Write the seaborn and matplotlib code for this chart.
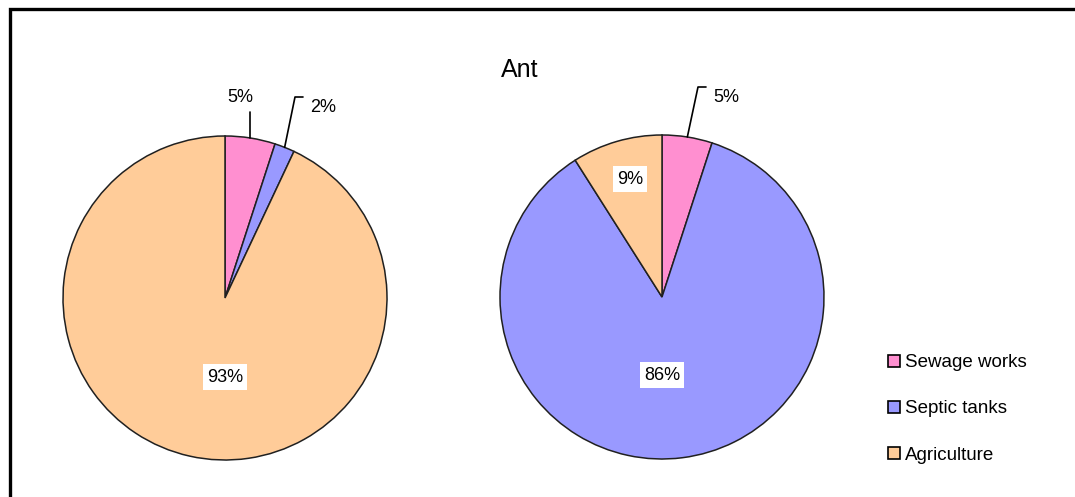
import numpy as np
import matplotlib
matplotlib.use("Agg")
import matplotlib.pyplot as plt
import seaborn as sns
from matplotlib.patches import Rectangle, Patch

# --- datos ---
categorias = ["Sewage works", "Septic tanks", "Agriculture"]
valores_izq = [5, 2, 93]
valores_der = [5, 86, 9]
titulo = "Ant"
colores = ["#FF8FD0", "#9999FF", "#FFCC99"]

sns.set_theme(style="white")
plt.rcParams['font.family'] = ['Liberation Sans', 'DejaVu Sans']
plt.rcParams['text.color'] = 'black'

W, H = 1075, 497
fig = plt.figure(figsize=(W / 100, H / 100), dpi=100, facecolor="white")
ax = fig.add_axes([0, 0, 1, 1])

# marco negro (solo arriba e izquierda visibles)
ax.add_patch(Rectangle((9.5, -20), W + 40, H - 8.5 + 20, fill=False,
                       edgecolor="black", linewidth=2.4, zorder=10))

R = 162
centros = [(225, H - 298), (662, H - 297)]
fs = 13

# posicion de etiquetas en pixeles relativos
etiquetas = [
    {2: ("in", 0, -79), 0: ("out_up", None, None), 1: ("out_elbow", (295, 97), (303, 97))},
    {1: ("in", 0, -78), 2: ("in", -32, 118), 0: ("out_elbow", (698, 87), (706, 87))},
]

for (cx, cy), vals, labs in zip(centros, [valores_izq, valores_der], etiquetas):
    wedges, _ = ax.pie(vals, colors=colores, startangle=90, counterclock=False,
                       center=(cx, cy), radius=R, frame=True,
                       wedgeprops=dict(edgecolor="#202020", linewidth=1.1))
    total = sum(vals)
    for i, w in enumerate(wedges):
        txt = f"{round(100 * vals[i] / total)}%"
        mid = np.deg2rad((w.theta1 + w.theta2) / 2)
        ex, ey = cx + R * np.cos(mid), cy + R * np.sin(mid)
        modo = labs[i]
        if modo[0] == "in":
            ax.text(cx + modo[1], cy + modo[2], txt, ha="center", va="center",
                    fontsize=fs, color="black",
                    bbox=dict(facecolor="white", edgecolor="none", pad=3))
        elif modo[0] == "out_up":
            ax.plot([ex, ex], [ey, H - 112], color="black", lw=1.2)
            ax.text(ex - 10, H - 97, txt, ha="center", va="center",
                    fontsize=fs, color="black")
        else:
            (x1, y1), (x2, y2) = modo[1], modo[2]
            ax.plot([ex, x1, x2], [ey, H - y1, H - y2], color="black", lw=1.2)
            ax.text(x2 + 7, H - y1 - 11, txt, ha="left", va="center",
                    fontsize=fs, color="black")

ax.set_xlim(0, W)
ax.set_ylim(0, H)
ax.set_aspect("equal")
ax.axis("off")

ax.text(520, H - 70, titulo, ha="center", va="center", fontsize=18, color="black")

# leyenda
handles = [Patch(facecolor=c, edgecolor="black", linewidth=1.2) for c in colores]
leg = fig.legend(handles, categorias, loc="upper left",
                 bbox_to_anchor=(879 / W, 1 - 345 / H), frameon=False,
                 fontsize=13.5, handlelength=0.6, handleheight=0.6,
                 handletextpad=0.3, labelspacing=1.55, borderpad=0,
                 labelcolor="black")

fig.savefig("out.png", dpi=100, facecolor="white")
